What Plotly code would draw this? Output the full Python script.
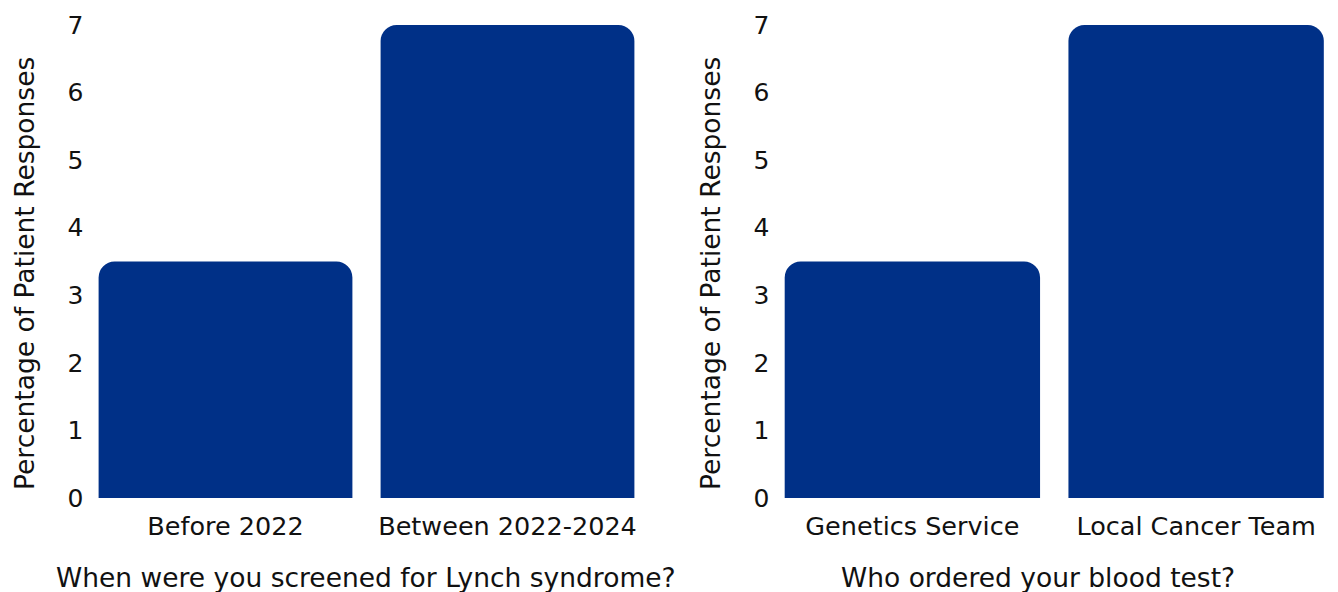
import plotly.graph_objects as go
from plotly.subplots import make_subplots

left_categories = ["Before 2022", "Between 2022-2024"]
left_values = [3.5, 7]
right_categories = ["Genetics Service", "Local Cancer Team"]
right_values = [3.5, 7]
y_ticks = [0, 1, 2, 3, 4, 5, 6, 7]
left_xtitle = "When were you screened for Lynch syndrome?"
right_xtitle = "Who ordered your blood test?"
y_title = "Percentage of Patient Responses"

BLUE = "#003087"
FONT = "DejaVu Sans"
W, H = 1338, 592
MT, MB = 25, 94
PH = H - MT - MB

fig = make_subplots(rows=1, cols=2)
fig.add_trace(go.Bar(x=left_categories, y=left_values, marker_color=BLUE,
                     marker_line_width=0, showlegend=False), row=1, col=1)
fig.add_trace(go.Bar(x=right_categories, y=right_values, marker_color=BLUE,
                     marker_line_width=0, showlegend=False), row=1, col=2)

fig.update_layout(
    width=W, height=H,
    margin=dict(l=0, r=0, t=MT, b=MB),
    plot_bgcolor="white", paper_bgcolor="white",
    bargap=0.1, barcornerradius=16,
    font=dict(family=FONT, size=25, color="#111111"),
    xaxis=dict(domain=[84.5 / W, 648.5 / W]),
    xaxis2=dict(domain=[770.5 / W, 1.0]),
)
for i in (1, 2):
    fig.update_xaxes(showgrid=False, showline=False, ticks="outside", ticklen=5,
                     tickcolor="white", zeroline=False,
                     tickfont=dict(size=25.5), row=1, col=i)
    fig.update_yaxes(range=[0, 7], tickvals=y_ticks, showgrid=False, showline=False,
                     zeroline=False, ticks="", tickfont=dict(size=25),
                     row=1, col=i)


def py(px):
    return (H - MB - px) / PH


title_font = dict(family=FONT, size=26.5, color="#111111")
for text, xc in [(left_xtitle, 366.5), (right_xtitle, 1038)]:
    fig.add_annotation(text=text, xref="paper", yref="paper", x=xc / W, y=py(577),
                       xanchor="center", yanchor="middle", showarrow=False,
                       font=title_font)
for xc in (24, 710):
    fig.add_annotation(text=y_title, xref="paper", yref="paper", x=xc / W, y=py(274),
                       xanchor="center", yanchor="middle", showarrow=False,
                       textangle=-90, font=title_font)

fig.write_html("out.html")
